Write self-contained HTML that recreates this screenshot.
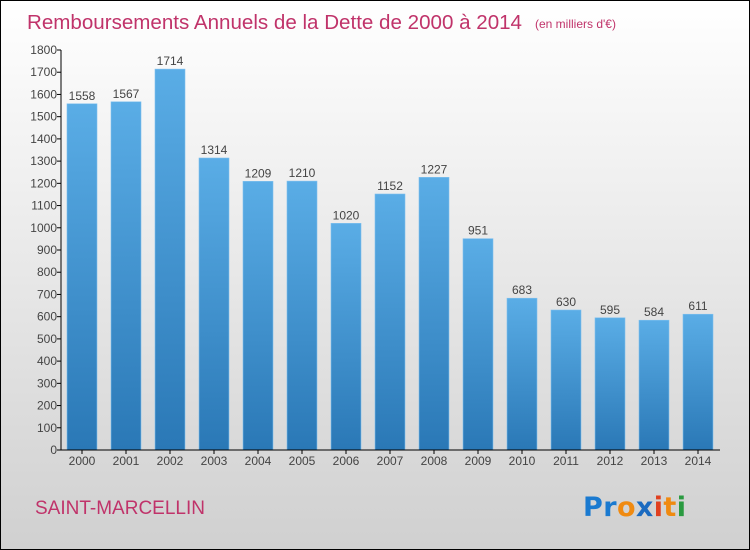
<!DOCTYPE html>
<html><head><meta charset="utf-8"><style>
body{margin:0}
svg{display:block;font-family:"Liberation Sans",sans-serif}
</style></head><body>
<svg id="chart" width="750" height="550" viewBox="0 0 750 550">
<defs>
<linearGradient id="bg" x1="0" y1="0" x2="0" y2="1"><stop offset="0" stop-color="#ffffff"/><stop offset="1" stop-color="#d0d0d0"/></linearGradient>
<linearGradient id="bar" x1="0" y1="0" x2="0" y2="1"><stop offset="0" stop-color="#5aade6"/><stop offset="1" stop-color="#2a78b6"/></linearGradient>
</defs>
<rect x="0.5" y="0.5" width="749" height="549" fill="url(#bg)" stroke="#000"/>
<text x="27" y="29" font-size="20" fill="#c0336a" textLength="495" lengthAdjust="spacingAndGlyphs">Remboursements Annuels de la Dette de 2000 à 2014</text>
<text x="535" y="28" font-size="12" fill="#c0336a">(en milliers d'€)</text>
<g id="yaxis"></g>
<g id="bars"></g>
<g id="xaxis"></g>
<text x="35" y="514" font-size="19" fill="#c0336a">SAINT-MARCELLIN</text>
<text x="583" y="516" font-size="27" font-weight="bold" font-family="'DejaVu Sans',sans-serif" textLength="103"><tspan fill="#1a7ad0">Pr</tspan><tspan fill="#f08a10">o</tspan><tspan fill="#1a6ac0">x</tspan><tspan fill="#e04020">i</tspan><tspan fill="#f08a10">t</tspan><tspan fill="#2a9a40">i</tspan></text>
</svg>
<script>
const years=["2000","2001","2002","2003","2004","2005","2006","2007","2008","2009","2010","2011","2012","2013","2014"];
const values=[1558,1567,1714,1314,1209,1210,1020,1152,1227,951,683,630,595,584,611];
const yTicks=[0,100,200,300,400,500,600,700,800,900,1000,1100,1200,1300,1400,1500,1600,1700,1800];
const NS="http://www.w3.org/2000/svg";
const y0=450,yTop=50,yMax=1800,xL=61,xR=720,step=44,x0=82,bw=30;
const Y=v=>y0-(v/yMax)*(y0-yTop);
const X=i=>x0+i*step;
function mk(t,a,p){const e=document.createElementNS(NS,t);for(const k in a)e.setAttribute(k,a[k]);p.appendChild(e);return e;}
const ya=document.getElementById('yaxis'),ba=document.getElementById('bars'),xa=document.getElementById('xaxis');
const axl=mk('line',{x1:xL,y1:yTop,x2:xL,y2:y0,stroke:'#000'},ya);


yTicks.forEach(v=>{
  const l=mk('line',{x1:xL-4,y1:Y(v),x2:xL,y2:Y(v),stroke:'#000'},ya);
  
  
  const t=mk('text',{x:xL-4,y:Y(v)+4,'font-size':12,'text-anchor':'end',fill:'#444'},ya);
  t.textContent=v;
  
  
});
const bxl=mk('line',{x1:xL,y1:y0,x2:xR,y2:y0,stroke:'#000'},xa);


years.forEach((yr,i)=>{
  const r=mk('rect',{x:X(i)-bw/2,y:Y(values[i]),width:bw,height:y0-Y(values[i]),fill:'url(#bar)',stroke:'#7fc0ee','stroke-width':0.6},ba);
  
  
  const v=mk('text',{x:X(i),y:Y(values[i])-4,'font-size':12,'text-anchor':'middle',fill:'#444'},ba);
  v.textContent=values[i];
  
  
  const tk=mk('line',{x1:X(i),y1:y0,x2:X(i),y2:y0+4,stroke:'#000'},xa);
  
  
  const t=mk('text',{x:X(i),y:y0+15,'font-size':12,'text-anchor':'middle',fill:'#444'},xa);
  t.textContent=yr;
  
  
});
</script>
</body></html>
